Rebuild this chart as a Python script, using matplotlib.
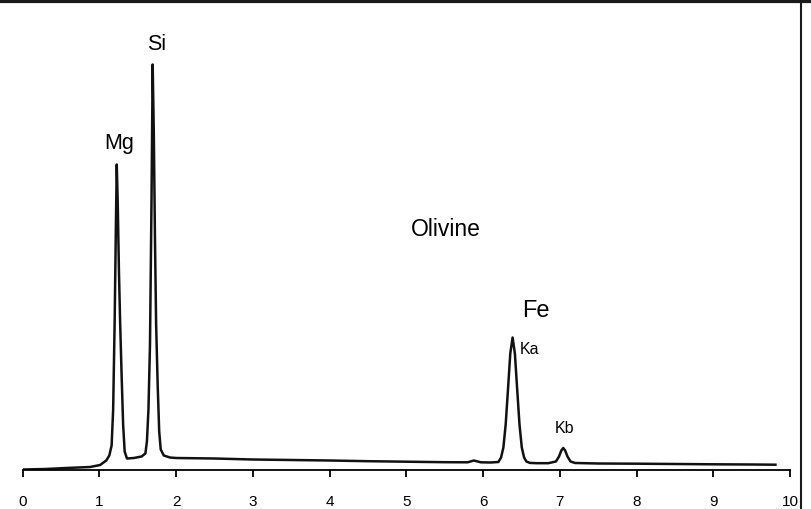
import matplotlib
matplotlib.use('Agg')
import matplotlib.pyplot as plt
from matplotlib.lines import Line2D

plt.rcParams['font.family'] = ['Liberation Sans', 'DejaVu Sans']

# EDS spectrum of olivine (energy in keV, arbitrary counts)
energy = [0.00, 0.30, 0.57, 0.88, 1.01, 1.09, 1.13, 1.16, 1.18, 1.20, 1.215, 1.227,
          1.24, 1.255, 1.27, 1.29, 1.31, 1.33, 1.36, 1.45, 1.55, 1.60, 1.62, 1.64,
          1.66, 1.68, 1.695, 1.71, 1.725, 1.74, 1.76, 1.78, 1.80, 1.84, 1.92, 2.0,
          2.5, 3.0, 3.5, 4.0, 4.5, 5.0, 5.5, 5.80, 5.85, 5.88, 5.92, 5.97, 6.10,
          6.20, 6.235, 6.265, 6.295, 6.325, 6.355, 6.385, 6.415, 6.445, 6.475,
          6.505, 6.535, 6.565, 6.61, 6.70, 6.85, 6.95, 6.99, 7.02, 7.045, 7.07,
          7.10, 7.14, 7.20, 7.5, 8.0, 8.5, 9.0, 9.5, 9.81]
counts = [0, 0.5, 1.5, 2.5, 4.5, 9, 14, 24, 60, 150, 240, 305,
          265, 200, 150, 95, 45, 18, 11, 11.5, 13, 16, 28, 60,
          125, 270, 405, 335, 230, 145, 85, 38, 20, 14, 12, 11.5,
          11, 10, 9.5, 9, 8.3, 7.8, 7.3, 7.2, 8.3, 9, 8.2, 7.2, 7,
          7.5, 12, 22, 45, 80, 116, 132, 116, 80, 45,
          22, 12, 8, 6.6, 6.3, 6.3, 8, 13, 19, 21.5, 19,
          13, 8, 6.5, 6, 5.8, 5.5, 5.2, 5.0, 4.8]

tick_values = [0, 1, 2, 3, 4, 5, 6, 7, 8, 9, 10]

fig = plt.figure(figsize=(8.11, 5.10), dpi=100)
ax = fig.add_axes([22.6 / 811, 39.5 / 510, 767.4 / 811, 470.5 / 510])

ax.plot(energy, counts, color='#111111', lw=1.8, solid_joinstyle='round')

ax.set_xlim(0, 10)
ax.set_ylim(0, 470.5)
for side in ['left', 'right', 'top']:
    ax.spines[side].set_visible(False)
ax.spines['bottom'].set_linewidth(1.3)
ax.set_yticks([])
ax.set_xticks(tick_values)
ax.set_xticklabels([str(v) for v in tick_values])
ax.tick_params(axis='x', direction='out', length=5, width=1.3, pad=13, labelsize=11)

# peak labels
ax.text(1.258, 321.2, 'Mg', fontsize=15.5, ha='center', va='baseline')
ax.text(1.747, 420.5, 'Si', fontsize=15.5, ha='center', va='baseline')
ax.text(5.52, 234.5, 'Olivine', fontsize=16.5, ha='center', va='baseline')
ax.text(6.693, 153.2, 'Fe', fontsize=17, ha='center', va='baseline')
ax.text(6.482, 116.5, 'Ka', fontsize=11.5, ha='left', va='baseline')
ax.text(7.06, 37.2, 'Kb', fontsize=11.5, ha='center', va='baseline')

# dark frame edges of the scanned figure
fig.add_artist(Line2D([0, 1], [1 - 1.5 / 510, 1 - 1.5 / 510], transform=fig.transFigure,
                      color='#1a1a1a', lw=2.3, zorder=10))
fig.add_artist(Line2D([800.5 / 811, 800.5 / 811], [0, 1], transform=fig.transFigure,
                      color='#1a1a1a', lw=1.5, zorder=10))

fig.savefig('out.png', dpi=100)
